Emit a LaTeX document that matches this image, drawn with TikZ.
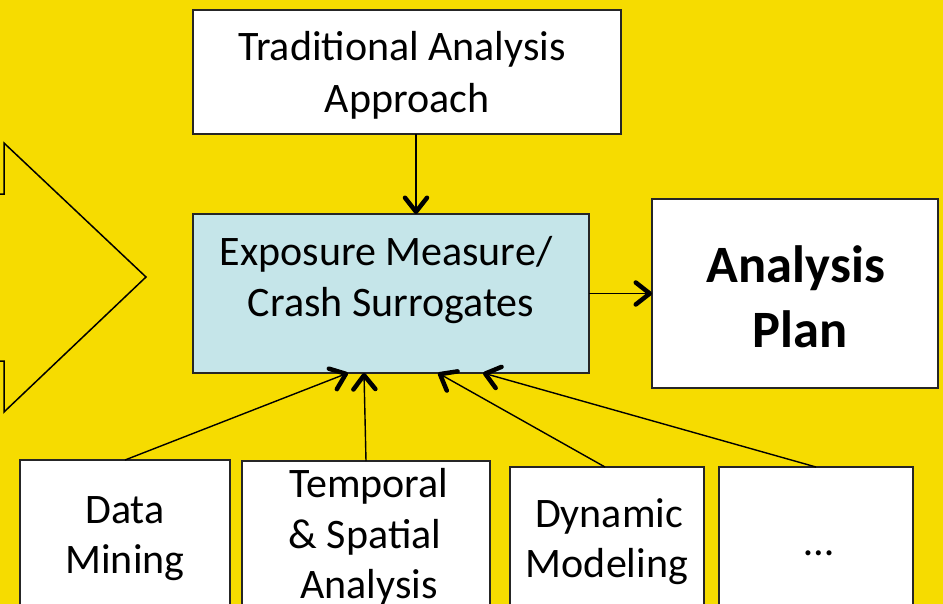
\documentclass[tikz,border=0pt]{standalone}
\usepackage{fontspec}
\setmainfont{Carlito}
\usetikzlibrary{arrows.meta}
\definecolor{bgyellow}{RGB}{246,220,0}
\definecolor{expblue}{RGB}{197,229,233}
\tikzset{
  box/.style={draw=black!85, line width=1.5pt, fill=white, inner sep=0pt, outer sep=0pt},
  txt/.style={anchor=base, inner sep=0pt, font=\fontsize{42}{51}\selectfont},
  boldtxt/.style={anchor=base, inner sep=0pt, font=\fontsize{52.5}{62}\selectfont\bfseries},
  conn/.style={line width=1.4pt, -{Straight Barb[length=14pt, width=22pt, line width=4.5pt, round]}},
}
\begin{document}
\begin{tikzpicture}[x=1pt, y=-1pt]
\useasboundingbox (0,0) rectangle (943,603);
\clip (0,0) rectangle (943,603);
\fill[bgyellow] (-10,-10) rectangle (953,613);
% big arrow on the left
\draw[line width=1.5pt, line join=miter] (-20,194) -- (4,194) -- (4,143) -- (146,277) -- (4,412) -- (4,361) -- (-20,361);
% boxes
\node[box, minimum width=428pt, minimum height=124pt] (trad) at (407,72) {};
\node[box, fill=expblue, minimum width=396pt, minimum height=159pt] (exp) at (391,293.5) {};
\node[box, minimum width=286pt, minimum height=189pt] (plan) at (795,293.5) {};
\node[box, minimum width=210pt, minimum height=170pt] (dm) at (125,545) {};
\node[box, minimum width=248pt, minimum height=169pt] (tp) at (366,545.5) {};
\node[box, minimum width=194pt, minimum height=163pt] (dyn) at (607,548.5) {};
\node[box, minimum width=194pt, minimum height=163pt] (etc) at (816,548.5) {};
% texts
\node[txt] (t1) at (402,60) {Traditional Analysis};
\node[txt] (t2) at (407,112) {Approach};
\node[txt] (e1) at (386,265) {Exposure Measure/};
\node[txt] (e2) at (391,316) {Crash Surrogates};
\node[boldtxt] (p1) at (796,282) {Analysis};
\node[boldtxt] (p2) at (800,347) {Plan};
\node[txt] (d1) at (125,523) {Data};
\node[txt] (d2) at (125,573) {Mining};
\node[txt] (s1) at (369,497) {Temporal};
\node[txt] (s2) at (365,548) {\& Spatial};
\node[txt] (s3) at (369,598) {Analysis};
\node[txt] (y1) at (609,527) {Dynamic};
\node[txt] (y2) at (607,577) {Modeling};
\node[txt] (z1) at (819,555) {…};
% connectors
\draw[conn] ([xshift=9pt]trad.south) -- ([xshift=25pt]exp.north);
\draw[conn] (exp.east) -- (plan.west);
\draw[conn] (dm.north) -- ([xshift=-43pt]exp.south);
\draw[conn] (tp.north) -- ([xshift=-27pt]exp.south);
\draw[conn] ([xshift=-2pt]dyn.north) -- ([xshift=47pt]exp.south);
\draw[conn] (etc.north) -- ([xshift=92pt]exp.south);
\end{tikzpicture}
\end{document}
